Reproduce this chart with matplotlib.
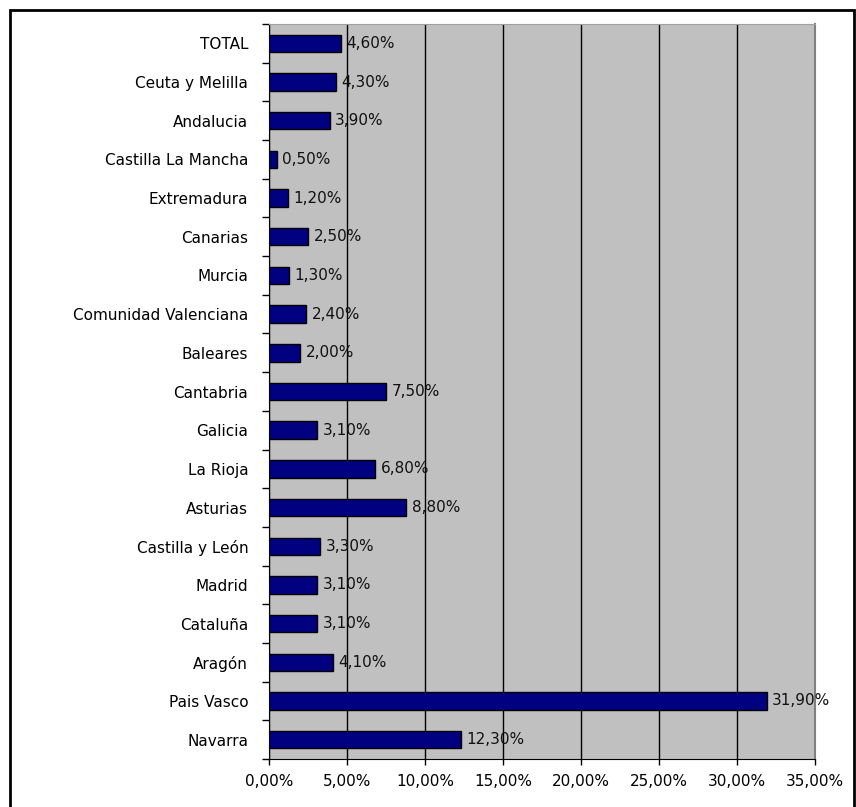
import matplotlib.pyplot as plt
import numpy as np
from matplotlib.patches import Rectangle
from matplotlib.ticker import FixedLocator

# Data, top to bottom as in the chart
regions = ["TOTAL", "Ceuta y Melilla", "Andalucia", "Castilla La Mancha", "Extremadura",
           "Canarias", "Murcia", "Comunidad Valenciana", "Baleares", "Cantabria",
           "Galicia", "La Rioja", "Asturias", "Castilla y León", "Madrid",
           "Cataluña", "Aragón", "Pais Vasco", "Navarra"]
values = [4.6, 4.3, 3.9, 0.5, 1.2, 2.5, 1.3, 2.4, 2.0, 7.5,
          3.1, 6.8, 8.8, 3.3, 3.1, 3.1, 4.1, 31.9, 12.3]
x_ticks = [0, 5, 10, 15, 20, 25, 30, 35]

plt.rcParams['font.family'] = ['DejaVu Sans']
fs = 11

fig = plt.figure(figsize=(8.56, 8.07), dpi=100)
ax = fig.add_axes([269 / 856, 1 - 759 / 807, 546 / 856, 735 / 807])

# outer chart border
fig.patches.append(Rectangle((10 / 856, -0.01), 844 / 856, 1 - 10 / 807 + 0.01,
                             transform=fig.transFigure, fill=False,
                             edgecolor='black', linewidth=2))

n = len(regions)
y = np.arange(n)[::-1]
ax.set_facecolor('#C0C0C0')
ax.barh(y, values, height=0.45, color='#000080', edgecolor='black', linewidth=1, zorder=3)

for yi, v in zip(y, values):
    ax.text(v + 0.35, yi, f"{v:.2f}%".replace('.', ','), va='center', ha='left',
            fontsize=fs, color='#111111', zorder=4)

ax.set_xlim(0, 35)
ax.set_ylim(-0.5, n - 0.5)
ax.set_xticks(x_ticks)
ax.set_xticklabels([f"{t:.2f}%".replace('.', ',') for t in x_ticks], fontsize=fs)
ax.set_yticks(y)
ax.set_yticklabels(regions, fontsize=fs)
ax.tick_params(axis='y', which='major', length=0, pad=15)
ax.yaxis.set_minor_locator(FixedLocator(np.arange(-0.5, n, 1.0)))
ax.tick_params(axis='y', which='minor', length=5, width=1, direction='out')
ax.tick_params(axis='x', length=4, width=1, direction='out', pad=7)

ax.grid(axis='x', color='black', linewidth=1, zorder=1)
ax.set_axisbelow(True)
for side in ['left', 'bottom']:
    ax.spines[side].set_color('black')
ax.spines['top'].set_color('#A0A0A0')
ax.spines['right'].set_color('#808080')
ax.spines['right'].set_linewidth(1.5)

fig.savefig('out.png', dpi=100)
